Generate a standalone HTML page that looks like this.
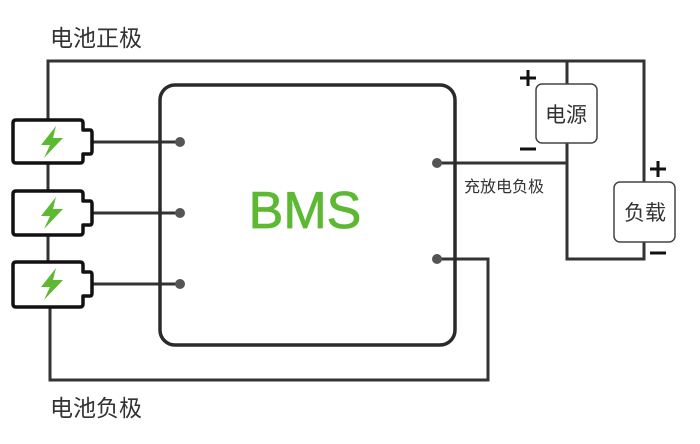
<!DOCTYPE html>
<html><head><meta charset="utf-8"><style>
body{margin:0;background:#fff;width:700px;height:439px;overflow:hidden}
svg text{font-family:"Liberation Sans","Noto Sans CJK SC",sans-serif}
</style></head><body>
<svg width="700" height="439" viewBox="0 0 700 439" xmlns="http://www.w3.org/2000/svg">
<g fill="none" stroke="#333" stroke-width="3">
<polyline points="48,120 48,61 644,61 644,182"/>
<polyline points="644,242 644,259 567,259 567,143"/>
<line x1="567" y1="61" x2="567" y2="84"/>
<line x1="437" y1="163" x2="567" y2="163"/>
<polyline points="437,259 488,259 488,380 50,380 50,307"/>
<line x1="48" y1="163" x2="48" y2="191"/>
<line x1="48" y1="235" x2="48" y2="262"/>
<line x1="93" y1="142" x2="180" y2="142"/>
<line x1="93" y1="213" x2="180" y2="213"/>
<line x1="93" y1="284" x2="180" y2="284"/>
</g>
<rect x="160" y="85" width="295" height="260" rx="15" fill="none" stroke="#2a2a2a" stroke-width="3.5"/>
<g fill="#555">
<circle cx="180" cy="142" r="5"/><circle cx="180" cy="213" r="5"/><circle cx="180" cy="284" r="5"/>
<circle cx="437" cy="163" r="5"/><circle cx="437" cy="259" r="5"/>
</g>
<g stroke="#111" stroke-width="3.5" fill="#fff" stroke-linejoin="round">
<path d="M16,120 H80 Q83,120 83,123 V130 H90 Q92,130 92,133 V151 Q92,154 90,154 H83 V160 Q83,163 80,163 H16 Q13,163 13,160 V123 Q13,120 16,120 Z"/>
<path d="M16,191 H80 Q83,191 83,194 V201 H90 Q92,201 92,204 V222 Q92,225 90,225 H83 V232 Q83,235 80,235 H16 Q13,235 13,232 V194 Q13,191 16,191 Z"/>
<path d="M16,262 H80 Q83,262 83,265 V272 H90 Q92,272 92,275 V293 Q92,296 90,296 H83 V304 Q83,307 80,307 H16 Q13,307 13,304 V265 Q13,262 16,262 Z"/>
</g>
<g fill="#5db832">
<path d="M56,126 L41,145 L50,145 L44,158 L63,138 L53,138 Z"/>
<path d="M56,197 L41,216 L50,216 L44,229 L63,209 L53,209 Z"/>
<path d="M56,268 L41,287 L50,287 L44,300 L63,280 L53,280 Z"/>
</g>
<rect x="536" y="84" width="61" height="59" rx="6" fill="#fff" stroke="#444" stroke-width="1.5"/>
<rect x="614" y="182" width="61" height="60" rx="6" fill="#fff" stroke="#444" stroke-width="1.5"/>
<text x="50" y="46" font-size="23" fill="#333">电池正极</text>
<text x="50" y="416" font-size="23" fill="#333">电池负极</text>
<text x="305" y="228" font-size="52" fill="#5db832" stroke="#5db832" stroke-width="0.8" text-anchor="middle">BMS</text>
<text x="566" y="122" font-size="21" fill="#333" text-anchor="middle">电源</text>
<text x="645" y="220" font-size="21" fill="#333" text-anchor="middle">负载</text>
<text x="464" y="192" font-size="16" fill="#333">充放电负极</text>
<g stroke="#111" stroke-width="3">
<line x1="520" y1="78" x2="536" y2="78"/><line x1="528" y1="70" x2="528" y2="86"/>
<line x1="520" y1="149" x2="536" y2="149"/>
<line x1="650" y1="169" x2="666" y2="169"/><line x1="658" y1="161" x2="658" y2="177"/>
<line x1="650" y1="253" x2="666" y2="253"/>
</g>
</svg>
</body></html>
